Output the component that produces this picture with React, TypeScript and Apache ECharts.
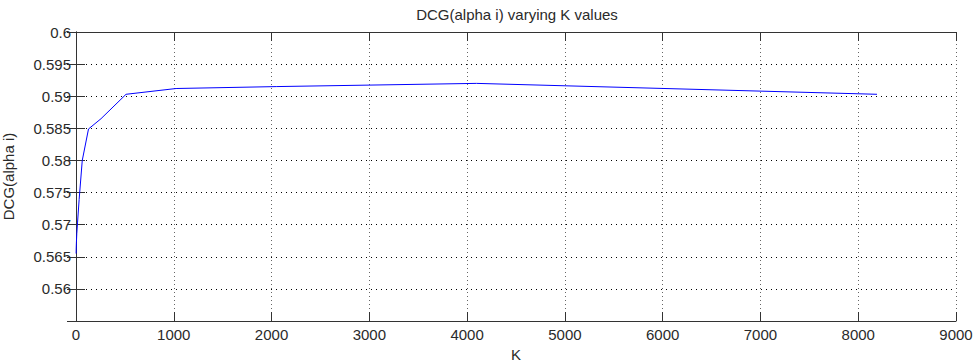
import React, { useEffect, useRef } from "react";
import * as echarts from "echarts";

const chartTitle = "DCG(alpha i) varying K values";
const xAxisName = "K";
const yAxisName = "DCG(alpha i)";

const kValues = [1, 2, 4, 8, 16, 32, 64, 128, 256, 512, 1024, 2048, 4096, 8192];
const dcgValues = [
  0.5655, 0.5662, 0.5672, 0.5686, 0.5704, 0.5739, 0.58, 0.5849, 0.5865, 0.5903,
  0.5912, 0.5915, 0.592, 0.5903,
];

const xMin = 0;
const xMax = 9000;
const xStep = 1000;
const yMin = 0.555;
const yMax = 0.6;
const yStep = 0.005;

const FONT = "Liberation Sans";
const TEXT = "#2a2a2a";
const AXIS = "#333333";

export default function App() {
  const ref = useRef<HTMLDivElement>(null);

  useEffect(() => {
    if (!ref.current) return;
    const chart = echarts.init(ref.current, null, { renderer: "svg" });
    const data = kValues.map((k, i) => [k, dcgValues[i]]);

    const tickInside = { show: true, inside: true, length: 9, lineStyle: { color: AXIS } };

    chart.setOption({
      animation: false,
      backgroundColor: "#ffffff",
      title: {
        text: chartTitle,
        left: 512,
        top: 2,
        textAlign: "center",
        textStyle: { fontFamily: FONT, fontSize: 15, fontWeight: "normal", color: TEXT },
      },
      grid: {
        left: 76,
        right: 20,
        top: 32,
        bottom: 42,
        containLabel: false,
        outerBoundsMode: "none",
      },
      xAxis: [
        {
          type: "value",
          min: xMin,
          max: xMax,
          interval: xStep,
          position: "bottom",
          name: xAxisName,
          nameLocation: "middle",
          nameGap: 23,
          nameTextStyle: { fontFamily: FONT, fontSize: 15, color: TEXT },
          axisLine: { show: true, lineStyle: { color: AXIS, width: 1 } },
          axisTick: tickInside,
          axisLabel: {
            fontFamily: FONT,
            fontSize: 15,
            color: TEXT,
            margin: 6,
            formatter: (v: number) => String(v),
          },
          splitLine: { show: true, lineStyle: { color: "#666", type: [1, 3], width: 1 } },
        },
        {
          type: "value",
          min: xMin,
          max: xMax,
          interval: xStep,
          position: "top",
          axisLine: { show: true, lineStyle: { color: AXIS, width: 1 } },
          axisTick: tickInside,
          axisLabel: { show: false },
          splitLine: { show: false },
        },
      ],
      yAxis: [
        {
          type: "value",
          min: yMin,
          max: yMax,
          interval: yStep,
          position: "left",
          name: yAxisName,
          nameLocation: "middle",
          nameGap: 60,
          nameTextStyle: { fontFamily: FONT, fontSize: 15, color: TEXT },
          axisLine: { show: true, lineStyle: { color: AXIS, width: 1 } },
          axisTick: tickInside,
          axisLabel: {
            fontFamily: FONT,
            fontSize: 15,
            color: TEXT,
            margin: 5,
            formatter: (v: number) => (v < yMin + yStep / 2 ? "" : String(Number(v.toFixed(3)))),
          },
          splitLine: { show: true, lineStyle: { color: "#000", type: [1, 4], width: 1 } },
        },
        {
          type: "value",
          min: yMin,
          max: yMax,
          interval: yStep,
          position: "right",
          axisLine: { show: true, lineStyle: { color: AXIS, width: 1 } },
          axisTick: tickInside,
          axisLabel: { show: false },
          splitLine: { show: false },
        },
      ],
      series: [
        {
          type: "line",
          xAxisIndex: 0,
          yAxisIndex: 0,
          data,
          showSymbol: false,
          symbol: "none",
          lineStyle: { color: "#0000ff", width: 1 },
          itemStyle: { color: "#0000ff" },
        },
      ],
    });

    return () => chart.dispose();
  }, []);

  return (
    <div
      ref={ref}
      style={{ position: "absolute", left: 0, top: 0, width: 976, height: 363, background: "#fff" }}
    />
  );
}
